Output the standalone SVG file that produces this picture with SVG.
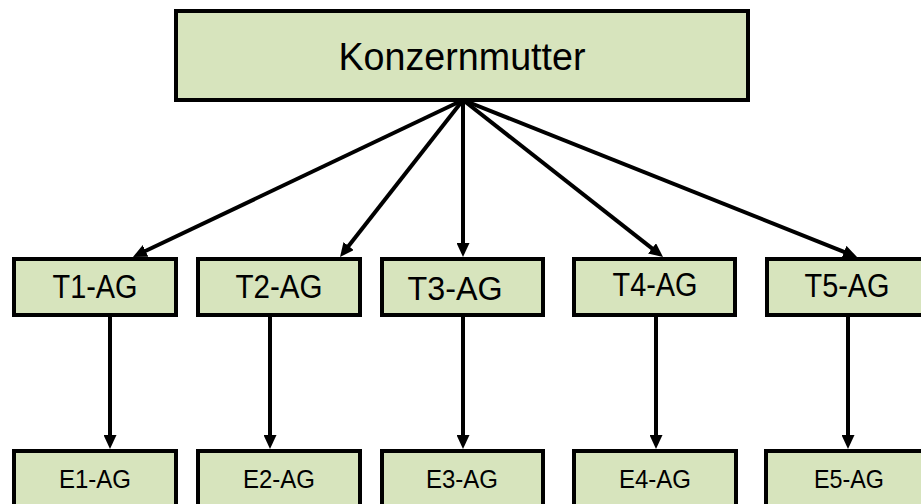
<svg xmlns="http://www.w3.org/2000/svg" width="921" height="504" viewBox="0 0 921 504">
  <style>
    .box { fill: #D7E4BD; stroke: #000; stroke-width: 4; }
    .label { font-family: "Liberation Sans", Arial, sans-serif; fill: #000; text-anchor: middle; }
    .top { font-size: 38px; }
    .mid { font-size: 33px; }
    .low { font-size: 25px; }
    .link { stroke: #000; stroke-width: 4; fill: none; marker-end: url(#head); }
  </style>
  <defs>
    <marker id="head" markerUnits="userSpaceOnUse" markerWidth="14" markerHeight="13" viewBox="0 0 14 13" refX="2" refY="6.5" orient="auto">
      <path d="M0,0 L14,6.5 L0,13 Z" fill="#000"/>
    </marker>
  </defs>
  <rect width="921" height="504" fill="#fff"/>

  <!-- parent company -->
  <g id="konzernmutter">
    <rect class="box" x="176" y="11" width="572" height="89"/>
    <text class="label top" x="462" y="70" textLength="247" lengthAdjust="spacingAndGlyphs">Konzernmutter</text>
  </g>

  <!-- subsidiaries -->
  <g id="t1">
    <rect class="box" x="14" y="259" width="162" height="56"/>
    <text class="label mid" x="95" y="298" textLength="85" lengthAdjust="spacingAndGlyphs">T1-AG</text>
  </g>
  <g id="t2">
    <rect class="box" x="198" y="259" width="162" height="56"/>
    <text class="label mid" x="279" y="298" textLength="87" lengthAdjust="spacingAndGlyphs">T2-AG</text>
  </g>
  <g id="t3">
    <rect class="box" x="382" y="259" width="161" height="56"/>
    <text class="label mid" x="455" y="300" textLength="95" lengthAdjust="spacingAndGlyphs">T3-AG</text>
  </g>
  <g id="t4">
    <rect class="box" x="574" y="259" width="161" height="56"/>
    <text class="label mid" x="655" y="296" textLength="85" lengthAdjust="spacingAndGlyphs">T4-AG</text>
  </g>
  <g id="t5">
    <rect class="box" x="767" y="259" width="162" height="56"/>
    <text class="label mid" x="847" y="297" textLength="85" lengthAdjust="spacingAndGlyphs">T5-AG</text>
  </g>

  <!-- sub-subsidiaries -->
  <g id="e1">
    <rect class="box" x="14" y="451" width="162" height="60"/>
    <text class="label low" x="95" y="488" textLength="72" lengthAdjust="spacingAndGlyphs">E1-AG</text>
  </g>
  <g id="e2">
    <rect class="box" x="198" y="451" width="162" height="60"/>
    <text class="label low" x="279" y="488" textLength="72" lengthAdjust="spacingAndGlyphs">E2-AG</text>
  </g>
  <g id="e3">
    <rect class="box" x="382" y="451" width="161" height="60"/>
    <text class="label low" x="462" y="488" textLength="72" lengthAdjust="spacingAndGlyphs">E3-AG</text>
  </g>
  <g id="e4">
    <rect class="box" x="574" y="451" width="162" height="60"/>
    <text class="label low" x="655" y="488" textLength="72" lengthAdjust="spacingAndGlyphs">E4-AG</text>
  </g>
  <g id="e5">
    <rect class="box" x="766" y="451" width="162" height="60"/>
    <text class="label low" x="849" y="488" textLength="70" lengthAdjust="spacingAndGlyphs">E5-AG</text>
  </g>

  <!-- ownership links -->
  <g id="connectors">
    <line class="link" x1="463" y1="100" x2="143.8" y2="251.8"/>
    <line class="link" x1="463" y1="100" x2="347.4" y2="247.6"/>
    <line class="link" x1="463" y1="100" x2="463" y2="245"/>
    <line class="link" x1="463" y1="100" x2="653.6" y2="249.6"/>
    <line class="link" x1="463" y1="100" x2="845.9" y2="252.6"/>
    <line class="link" x1="110" y1="317" x2="110" y2="437"/>
    <line class="link" x1="270" y1="317" x2="270" y2="437"/>
    <line class="link" x1="463" y1="317" x2="463" y2="437"/>
    <line class="link" x1="656" y1="317" x2="656" y2="437"/>
    <line class="link" x1="848" y1="317" x2="848" y2="437"/>
  </g>
</svg>
